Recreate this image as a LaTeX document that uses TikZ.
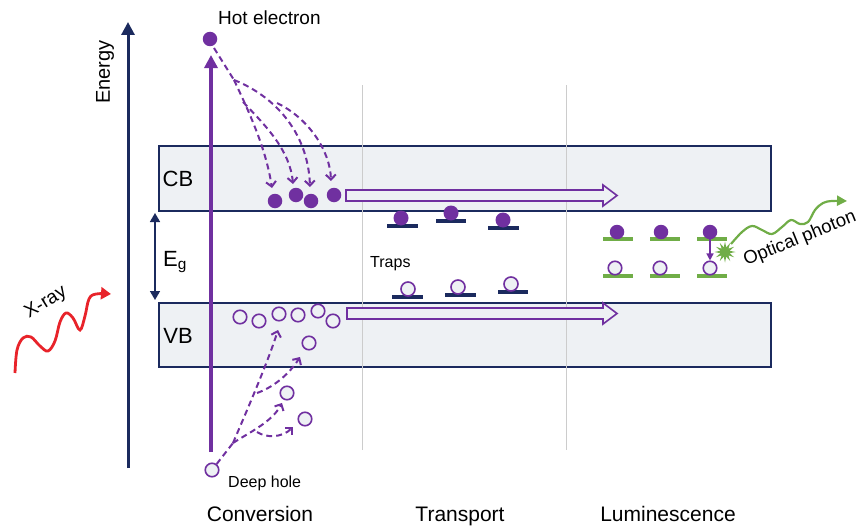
\documentclass[tikz,border=0pt]{standalone}
\usepackage{fontspec}
\setmainfont{Liberation Sans}
\usetikzlibrary{arrows.meta,shapes.geometric}
\definecolor{pur}{HTML}{7030A0}
\definecolor{navy}{HTML}{1B2A5E}
\definecolor{grn}{HTML}{70AD47}
\definecolor{rd}{HTML}{E8232A}
\definecolor{bandfill}{HTML}{EEF1F4}
\definecolor{guide}{HTML}{CCCCCC}
\begin{document}
\begin{tikzpicture}[x=1pt,y=-1pt,
  band/.style={draw=navy, line width=1.5pt, fill=bandfill, rectangle, inner sep=0, anchor=north west},
  elec/.style={circle, fill=pur, inner sep=0, minimum size=14.5pt},
  hole/.style={circle, draw=pur, line width=1.6pt, fill=bandfill, inner sep=0, minimum size=13.5pt},
  trapbar/.style={navy, line width=4pt},
  lumbar/.style={grn, line width=4pt},
  dsh/.style={pur, line width=2pt, dash pattern=on 6pt off 4pt},
  dtip/.style={-{Straight Barb[length=5pt,width=10pt,line width=2pt]}},
  hollowarrow/.style={draw=pur, line width=1.6pt, fill=bandfill},
  lbl/.style={inner sep=0, anchor=base, font=\fontsize{21}{25}\selectfont},
  small/.style={inner sep=0, anchor=base west, font=\fontsize{16}{19}\selectfont}]
\useasboundingbox (0,0) rectangle (861,527);

% bands
\node[band, minimum width=612pt, minimum height=65pt] (cb) at (158,145) {};
\node[band, minimum width=612pt, minimum height=64pt] (vb) at (158,302) {};

% guide lines
\draw[guide, line width=1pt] (362,85) -- (362,450);
\draw[guide, line width=1pt] (566,85) -- (566,450);

% energy axis
\coordinate (ebot) at (128,468);
\coordinate (etop) at (128,22);
\draw[navy, line width=3pt, -{Triangle[length=13pt,width=13pt]}] (ebot) -- (etop);
\node[inner sep=0, rotate=90, font=\fontsize{20}{24}\selectfont] (energy) at (105,72) {Energy};

% Eg arrow
\coordinate (egt) at (155,213);
\coordinate (egb) at (155,300);
\draw[navy, line width=1.6pt, {Triangle[length=9pt,width=10pt]}-{Triangle[length=9pt,width=10pt]}] (egt) -- (egb);
\node[inner sep=0, anchor=west, font=\fontsize{22}{26}\selectfont] (eg) at (163,262) {E\textsubscript{g}};

\node[lbl, font=\fontsize{22}{26}\selectfont] (cbl) at (178,186) {CB};
\node[lbl, font=\fontsize{22}{26}\selectfont] (vbl) at (178,343) {VB};

% main excitation arrow
\coordinate (ab) at (211,452);
\coordinate (at) at (211,55);
\draw[pur, line width=3.5pt, -{Triangle[length=13pt,width=13pt]}] (ab) -- (at);

% hot electron
\node[elec] (hot) at (210,39) {};
\node[inner sep=0, anchor=base west, font=\fontsize{19}{22}\selectfont] (hottxt) at (218,25) {Hot electron};

% thermalised electrons
\node[elec] (e1) at (275,201) {};
\node[elec] (e2) at (296,195) {};
\node[elec] (e3) at (311,201) {};
\node[elec] (e4) at (334,195) {};

\coordinate (h0) at (214,48);
\coordinate (h1) at (234,80);
\coordinate (h2) at (243,102);
\coordinate (h3) at (277,103);
\draw[dsh] (h0) -- (h1);
\draw[dsh, dtip] (h1) .. controls (252,118) and (266,150) .. (272,188);
\draw[dsh, dtip] (h2) .. controls (265,125) and (290,150) .. (293,184);
\draw[dsh, dtip] (h1) .. controls (272,95) and (308,130) .. (310,187);
\draw[dsh, dtip] (h3) .. controls (308,118) and (330,150) .. (331,181);

% holes in VB
\node[hole] (v1) at (240,317) {};
\node[hole] (v2) at (259,321) {};
\node[hole] (v3) at (279,314) {};
\node[hole] (v4) at (298,315) {};
\node[hole] (v5) at (318,311) {};
\node[hole] (v6) at (333,321) {};
\node[hole] (v7) at (309,343) {};
\node[hole] (v8) at (287,393) {};
\node[hole] (v9) at (305,419) {};

% deep hole
\node[hole] (dh) at (212,470) {};
\node[small] (dhtxt) at (228,487) {Deep hole};

\coordinate (d1) at (233,443);
\coordinate (d2) at (257,393);
\coordinate (d3) at (257,432);
\draw[dsh] (dh) -- (d1);
\draw[dsh, dtip] (d1) .. controls (245,415) and (268,362) .. (278,330);
\draw[dsh, dtip] (d2) .. controls (277,386) and (292,370) .. (300,357);
\draw[dsh, dtip] (d1) .. controls (250,432) and (272,422) .. (282,403);
\draw[dsh, dtip] (d3) .. controls (266,438) and (282,438) .. (293,427);

% transport arrows
\draw[hollowarrow] (346,190) -- (603,190) -- (603,185) -- (617,195.5) -- (603,206) -- (603,201) -- (346,201) -- cycle;
\draw[hollowarrow] (347,308) -- (603,308) -- (603,303) -- (617,313.5) -- (603,324) -- (603,319) -- (347,319) -- cycle;

% traps
\draw[trapbar] (387,226) -- (418,226);
\draw[trapbar] (436,221) -- (466,221);
\draw[trapbar] (488,228) -- (519,228);
\node[elec, minimum size=15pt] (t1) at (401,218) {};
\node[elec, minimum size=15pt] (t2) at (451,213) {};
\node[elec, minimum size=15pt] (t3) at (503,220) {};
\draw[trapbar] (392,297) -- (423,297);
\draw[trapbar] (445,295) -- (476,295);
\draw[trapbar] (498,292) -- (528,292);
\node[hole, minimum size=14pt] (s1) at (408,289) {};
\node[hole, minimum size=14pt] (s2) at (458,287) {};
\node[hole, minimum size=14pt] (s3) at (511,284) {};
\node[small] (traps) at (370,267) {Traps};

% luminescence centres
\draw[lumbar] (603,239) -- (633,239);
\draw[lumbar] (650,239) -- (680,239);
\draw[lumbar] (697,239) -- (727,239);
\node[elec] (l1) at (617,232) {};
\node[elec] (l2) at (661,232) {};
\node[elec] (l3) at (710,232) {};
\draw[lumbar] (603,276) -- (633,276);
\draw[lumbar] (650,276) -- (680,276);
\draw[lumbar] (697,276) -- (727,276);
\node[hole] (m1) at (615,268) {};
\node[hole] (m2) at (660,268) {};
\node[hole] (m3) at (710,268) {};
\draw[pur, line width=1.4pt, -{Triangle[length=7pt,width=7pt]}] (l3.south) -- (m3.north);

% burst and photon
\node[star, star points=12, star point ratio=2.2, fill=grn, minimum size=21pt, inner sep=0] (burst) at (725,252) {};
\draw[grn, line width=2.2pt, -{Triangle[length=10pt,width=10pt]}] plot[smooth, tension=0.6] coordinates {(731,244) (742,232) (752,226) (762,230) (772,234) (782,227) (791,220) (800,224) (808,222) (815,210) (823,203) (832,201) (847,201)};
\node[inner sep=0, rotate=22, font=\fontsize{18.5}{22}\selectfont] (phot) at (800,239) {Optical photon};

% X-ray
\draw[rd, line width=2.8pt, -{Triangle[length=10pt,width=12pt]}] plot[smooth, tension=0.6] coordinates {(15,373) (17,350) (23,338) (31,337) (40,346) (48,351) (55,341) (60,322) (66,313) (73,318) (80,330) (85,316) (89,299) (96,294) (111,294)};
\node[inner sep=0, rotate=32, font=\fontsize{19}{22}\selectfont] (xray) at (46,303) {X-ray};

% stage labels
\node[lbl] (conv) at (260,521) {Conversion};
\node[lbl] (trans) at (460,521) {Transport};
\node[lbl] (lum) at (668,521) {Luminescence};
\end{tikzpicture}
\end{document}
